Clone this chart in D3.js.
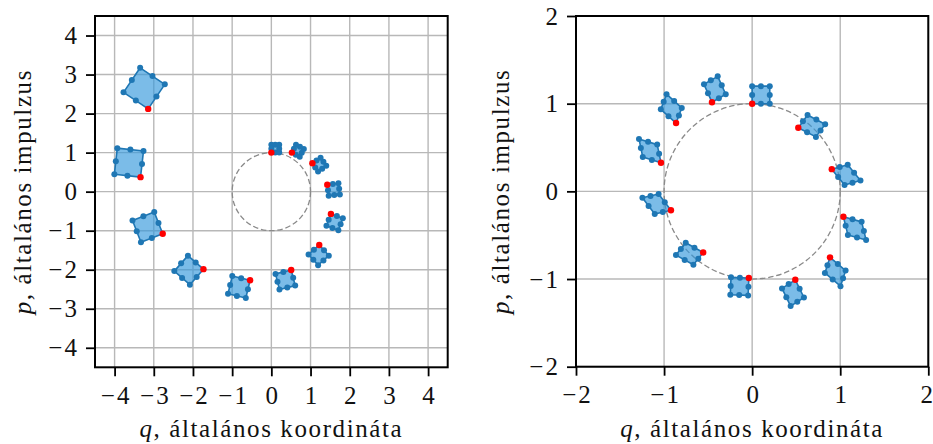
<!DOCTYPE html>
<html>
<head>
<meta charset="utf-8">
<script src="https://cdn.jsdelivr.net/npm/d3@7"></script>
<style>
  html, body { margin: 0; padding: 0; background: #fff; }
  svg { display: block; }
  text { font-family: "Liberation Serif", "DejaVu Serif", serif; fill: #111; }
</style>
</head>
<body>
<svg id="chart" width="933" height="444"></svg>
<script>
// Twelve time steps (h = π/6) of a small phase-space cell of side 0.2,
// started with its corner at (q, p) = (0, 1).
// Each cell: corner (red dot) plus the two side vectors spanning the cell.

// Left: explicit Euler step — the cell grows and spirals outward.
const eulerCornerQ = [0, 0.524, 1.047, 1.427, 1.520, 1.222, 0.507, -0.543, -1.732, -2.772, -3.338, -3.143];
const eulerCornerP = [1, 1.000, 0.726, 0.178, -0.570, -1.366, -2.006, -2.271, -1.986, -1.079, 0.372, 2.120];
const eulerSideUq  = [0.200, 0.200, 0.145, 0.036, -0.114, -0.273, -0.401, -0.454, -0.397, -0.216, 0.075, 0.424];
const eulerSideUp  = [0.000, -0.105, -0.209, -0.285, -0.304, -0.244, -0.101, 0.109, 0.347, 0.555, 0.668, 0.629];
const eulerSideVq  = [0.000, 0.105, 0.209, 0.285, 0.304, 0.244, 0.101, -0.109, -0.347, -0.555, -0.668, -0.629];
const eulerSideVp  = [0.200, 0.200, 0.145, 0.036, -0.114, -0.273, -0.401, -0.454, -0.397, -0.216, 0.075, 0.424];

// Right: symplectic Euler step — the cell keeps its area and stays near the circle.
const symplCornerQ = [0, 0.524, 0.904, 1.036, 0.884, 0.490, -0.038, -0.556, -0.922, -1.035, -0.864, -0.456];
const symplCornerP = [1, 0.726, 0.253, -0.290, -0.753, -1.009, -0.989, -0.698, -0.215, 0.326, 0.779, 1.017];
const symplSideUq  = [0.200, 0.200, 0.145, 0.051, -0.058, -0.151, -0.202, -0.198, -0.140, -0.043, 0.065, 0.156];
const symplSideUp  = [0.000, -0.105, -0.181, -0.207, -0.177, -0.098, 0.008, 0.111, 0.184, 0.207, 0.173, 0.091];
const symplSideVq  = [0.000, 0.105, 0.181, 0.207, 0.177, 0.098, -0.008, -0.111, -0.184, -0.207, -0.173, -0.091];
const symplSideVp  = [0.200, 0.145, 0.051, -0.058, -0.151, -0.202, -0.198, -0.140, -0.043, 0.065, 0.156, 0.204];

// Axis ticks
const leftTicks  = [-4, -3, -2, -1, 0, 1, 2, 3, 4];
const rightTicks = [-2, -1, 0, 1, 2];

const xLabelRest = ", általános koordináta";
const yLabelRest = ", általános impulzus";
const circleRadius = 1;

function buildCells(cq, cp, uq, up, vq, vp) {
  return cq.map((q, i) => ({ q, p: cp[i], uq: uq[i], up: up[i], vq: vq[i], vp: vp[i] }));
}

// positions around the cell boundary, in side-fractions (a along U, b along V)
const boundary = [[0,0],[0.5,0],[1,0],[1,0.5],[1,1],[0.5,1],[0,1],[0,0.5]];
const outline  = [[0,0],[1,0],[1,1],[0,1]];
const at = (c, a, b) => [c.q + a * c.uq + b * c.vq, c.p + a * c.up + b * c.vp];

const svg = d3.select("#chart");
const fontSize = 25;
// minus sign followed by a hair space, as in typeset math
const fmt = v => (v < 0 ? "\u2212\u200A" + Math.abs(v) : String(v));

const panels = [
  { lim: 4.5, xr: [95, 447.7], yr: [367.3, 16], ticks: leftTicks, ylabX: 31,
    cells: buildCells(eulerCornerQ, eulerCornerP, eulerSideUq, eulerSideUp, eulerSideVq, eulerSideVp) },
  { lim: 2, xr: [576, 928.3], yr: [366.7, 16], ticks: rightTicks, ylabX: 509,
    cells: buildCells(symplCornerQ, symplCornerP, symplSideUq, symplSideUp, symplSideVq, symplSideVp) }
];

panels.forEach(P => {
  const x = d3.scaleLinear().domain([-P.lim, P.lim]).range(P.xr);
  const y = d3.scaleLinear().domain([-P.lim, P.lim]).range(P.yr);
  const g = svg.append("g");

  // grid
  g.append("g").selectAll("line").data(P.ticks).join("line")
    .attr("x1", d => x(d)).attr("x2", d => x(d))
    .attr("y1", P.yr[0]).attr("y2", P.yr[1])
    .attr("stroke", "#b8b8b8").attr("stroke-width", 1.4);
  g.append("g").selectAll("line").data(P.ticks).join("line")
    .attr("y1", d => y(d)).attr("y2", d => y(d))
    .attr("x1", P.xr[0]).attr("x2", P.xr[1])
    .attr("stroke", "#b8b8b8").attr("stroke-width", 1.4);

  // reference circle
  g.append("ellipse")
    .attr("cx", x(0)).attr("cy", y(0))
    .attr("rx", x(circleRadius) - x(0)).attr("ry", y(0) - y(circleRadius))
    .attr("fill", "none").attr("stroke", "#8a8a8a")
    .attr("stroke-width", 1.3).attr("stroke-dasharray", "5.5,2.8");

  const line = d3.line().x(d => x(d[0])).y(d => y(d[1]));

  // cells
  g.append("g").selectAll("path").data(P.cells).join("path")
    .attr("d", c => line(outline.map(([a, b]) => at(c, a, b))) + "Z")
    .attr("fill", "#3498db").attr("fill-opacity", 0.65)
    .attr("stroke", "#1f77b4").attr("stroke-width", 1.6)
    .attr("stroke-linejoin", "round");

  // boundary points
  const pts = P.cells.flatMap(c => boundary.slice(1).map(([a, b]) => at(c, a, b)));
  g.append("g").selectAll("circle").data(pts).join("circle")
    .attr("cx", d => x(d[0])).attr("cy", d => y(d[1])).attr("r", 3)
    .attr("fill", "#1f77b4");

  // tracked corner
  g.append("g").selectAll("circle").data(P.cells).join("circle")
    .attr("cx", c => x(c.q)).attr("cy", c => y(c.p)).attr("r", 3.2)
    .attr("fill", "#ff0000");

  // frame
  g.append("rect")
    .attr("x", P.xr[0]).attr("y", P.yr[1])
    .attr("width", P.xr[1] - P.xr[0]).attr("height", P.yr[0] - P.yr[1])
    .attr("fill", "none").attr("stroke", "#000").attr("stroke-width", 2);

  // axes
  const ax = g.append("g").attr("transform", `translate(0,${P.yr[0]})`)
    .call(d3.axisBottom(x).tickValues(P.ticks).tickFormat(fmt).tickSize(9).tickPadding(10));
  const ay = g.append("g").attr("transform", `translate(${P.xr[0]},0)`)
    .call(d3.axisLeft(y).tickValues(P.ticks).tickFormat(fmt).tickSize(9).tickPadding(9));
  [ax, ay].forEach(a => {
    a.select(".domain").remove();
    a.selectAll(".tick line").attr("stroke", "#000").attr("stroke-width", 1.8);
    a.selectAll(".tick text")
      .style("font-family", '"Liberation Serif", serif')
      .style("font-size", fontSize + "px")
      .attr("fill", "#111");
  });
  // keep the outermost bottom label inside the page
  ax.selectAll(".tick text").filter(d => x(d) > 920).attr("dx", "-2");

  // axis labels
  const xl = g.append("text")
    .attr("x", (P.xr[0] + P.xr[1]) / 2).attr("y", 437)
    .attr("text-anchor", "middle").style("font-size", fontSize + "px")
    .style("letter-spacing", "1.6px");
  xl.append("tspan").style("font-style", "italic").text("q");
  xl.append("tspan").text(xLabelRest);

  const yl = g.append("text")
    .attr("transform", `translate(${P.ylabX},${(P.yr[0] + P.yr[1]) / 2}) rotate(-90)`)
    .attr("text-anchor", "middle").style("font-size", fontSize + "px")
    .style("letter-spacing", "1.6px");
  yl.append("tspan").style("font-style", "italic").text("p");
  yl.append("tspan").text(yLabelRest);
});
</script>
</body>
</html>
